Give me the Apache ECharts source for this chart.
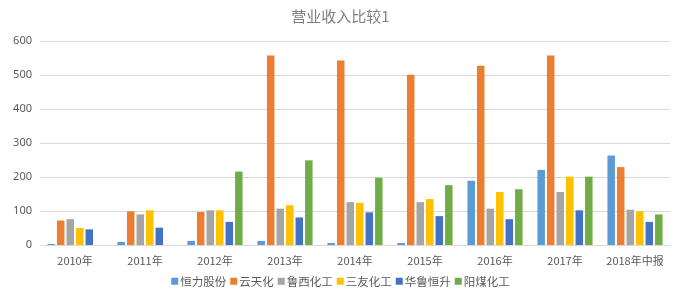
<!DOCTYPE html>
<html>
<head>
<meta charset="utf-8">
<script src="https://cdn.jsdelivr.net/npm/echarts@6/dist/echarts.min.js"></script>
<style>
  html, body { margin: 0; padding: 0; background: #fff; }
  #main { width: 681px; height: 301px; }
</style>
</head>
<body>
<div id="main"></div>
<script>
// 年份
const years = ['2010年', '2011年', '2012年', '2013年', '2014年', '2015年', '2016年', '2017年', '2018年中报'];
// 各公司营业收入
const hengli = [3, 9, 12, 12, 6, 6, 189, 221, 263];
const yuntianhua = [72, 99, 97, 557, 543, 501, 527, 557, 229];
const luxi = [76, 90, 102, 107, 126, 126, 107, 156, 104];
const sanyou = [50, 102, 102, 117, 124, 135, 156, 201, 99];
const hualu = [46, 51, 68, 81, 96, 85, 76, 102, 68];
const yangmei = [0, 0, 216, 249, 198, 176, 164, 201, 90];
const names = ['恒力股份', '云天化', '鲁西化工', '三友化工', '华鲁恒升', '阳煤化工'];
const colors = ['#5b9bd5', '#ed7d31', '#a5a5a5', '#ffc000', '#4472c4', '#70ad47'];

const chart = echarts.init(document.getElementById('main'));
const allData = [hengli, yuntianhua, luxi, sanyou, hualu, yangmei];

let series = [];
for (let i = 0; i < names.length; i++) {
  series.push({
    name: names[i],
    type: 'bar',
    data: allData[i],
    barWidth: 7.5,
    barGap: '27%',
    itemStyle: { color: colors[i] }
  });
}

chart.setOption({
  animation: false,
  color: colors,
  title: {
    text: '营业收入比较1',
    left: 'center',
    top: 4,
    textStyle: {
      fontFamily: 'Noto Sans CJK SC',
      fontSize: 15,
      fontWeight: 'normal',
      color: '#7f7f7f'
    }
  },
  legend: {
    bottom: 9,
    left: 'center',
    itemWidth: 7,
    itemHeight: 7,
    itemGap: 4,
    icon: 'rect',
    textStyle: {
      fontFamily: 'Noto Sans CJK SC',
      fontSize: 11.5,
      color: '#595959',
      padding: [0, 0, 0, -3]
    },
    data: names
  },
  grid: {
    left: 40,
    right: 11,
    top: 41,
    bottom: 56
  },
  xAxis: {
    type: 'category',
    data: years,
    axisTick: { show: false },
    axisLine: { lineStyle: { color: '#d9d9d9' } },
    axisLabel: {
      interval: 0,
      color: '#595959',
      fontSize: 11,
      margin: 10,
      fontFamily: 'Noto Sans CJK SC'
    }
  },
  yAxis: {
    type: 'value',
    min: 0,
    max: 600,
    interval: 100,
    axisLine: { show: false },
    axisTick: { show: false },
    splitLine: { lineStyle: { color: '#d9d9d9' } },
    axisLabel: {
      color: '#595959',
      fontSize: 11,
      margin: 8,
      fontFamily: 'Noto Sans'
    }
  },
  series: series
});
</script>
</body>
</html>
